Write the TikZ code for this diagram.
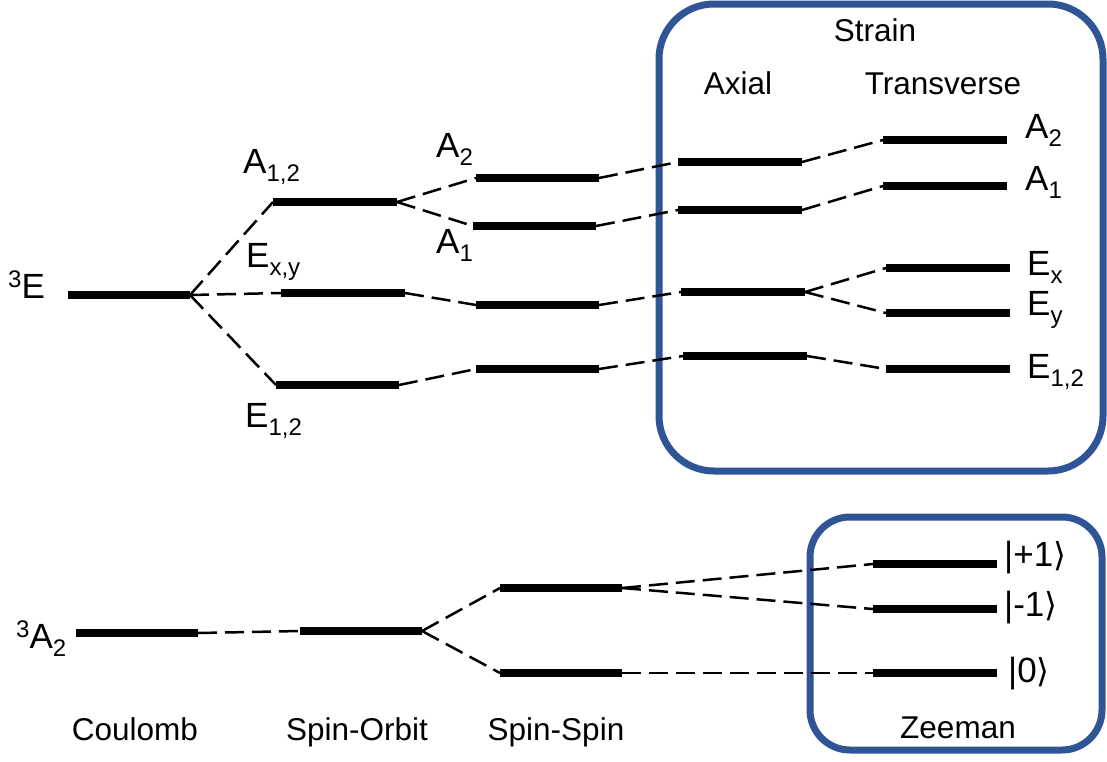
\documentclass[tikz,border=0pt]{standalone}
\usepackage{fontspec}
\setmainfont{Liberation Sans}
\newfontfamily\djv{DejaVu Sans}
\definecolor{boxblue}{RGB}{47,85,151}
\newcommand\lsub[1]{\raisebox{-0.23em}{\fontsize{24}{24}\selectfont #1}}
\newcommand\lsup[1]{\raisebox{0.3em}{\fontsize{24}{24}\selectfont #1}}
\newcommand\rket{{\djv\fontsize{33}{36}\selectfont ⟩}}
\begin{document}
\begin{tikzpicture}[x=1pt,y=-1pt,
  bar/.style={line width=8pt},
  conn/.style={line width=2.5pt, dash pattern=on 19pt off 8pt},
  frame/.style={draw=boxblue, line width=7pt},
  lbl/.style={font=\fontsize{35}{40}\selectfont, inner sep=0pt, anchor=base west},
  klbl/.style={font=\fontsize{35}{40}\selectfont, inner sep=0pt, anchor=base west},
  clbl/.style={font=\fontsize{31.5}{36}\selectfont, inner sep=0pt, anchor=base},
]
\useasboundingbox (0,0) rectangle (1107,761);
% frames
\draw[frame, rounded corners=55pt] (659,4) rectangle (1103,471);
\draw[frame, rounded corners=40pt] (810,517) rectangle (1102,750);
% levels
\foreach \n/\a/\b/\y in {E/68/190/295, A12/273/397/202, Exy/281/405/293, E12/276/399/385,
  SA2/476/599/178, SA1/473/596/226, SEx/476/599/305, SE12/476/599/369,
  XA2/678/802/162, XA1/678/802/210, XE/681/805/292, XE12/683/807/356,
  TA2/883/1007/140, TA1/883/1007/186, TEx/886/1010/268, TEy/886/1010/313, TE12/886/1010/369,
  GA/76/198/633, GSO/300/422/631, GSp/500/622/588, GS0/500/622/673,
  Zp/873/997/564, Zm/873/997/609, Z0/873/997/673}
  {\coordinate (\n-l) at (\a,\y); \coordinate (\n-r) at (\b,\y); \draw[bar] (\n-l) -- (\n-r);}
% connectors
\foreach \p/\q in {E/A12, E/Exy, E/E12, A12/SA2, A12/SA1, Exy/SEx, E12/SE12,
  SA2/XA2, SA1/XA1, SEx/XE, SE12/XE12, XA2/TA2, XA1/TA1, XE/TEx, XE/TEy, XE12/TE12,
  GA/GSO, GSO/GSp, GSO/GS0, GSp/Zp, GSp/Zm, GS0/Z0}
  {\draw[conn] (\p-r) -- (\q-l);}
% labels
\node[lbl] (t3E) at (8,298) {\lsup{3}E};
\node[lbl] (tA12) at (243,173) {A\lsub{1,2}};
\node[lbl] (tExy) at (246,267) {E\lsub{x,y}};
\node[lbl] (tE12) at (245,427) {E\lsub{1,2}};
\node[lbl] (tSA2) at (436,157) {A\lsub{2}};
\node[lbl] (tSA1) at (436,253) {A\lsub{1}};
\node[lbl] (tTA2) at (1025,138) {A\lsub{2}};
\node[lbl] (tTA1) at (1025,190) {A\lsub{1}};
\node[lbl] (tTEx) at (1027,275) {E\lsub{x}};
\node[lbl] (tTEy) at (1027,315) {E\lsub{y}};
\node[lbl] (tTE12) at (1027,378) {E\lsub{1,2}};
\node[lbl] (t3A2) at (16,648) {\lsup{3}A\lsub{2}};
\node[klbl] (tZp) at (1004,566) {|+1\rket};
\node[klbl] (tZm) at (1004,616) {|-1\rket};
\node[klbl] (tZ0) at (1008,682) {|0\rket};
\node[clbl] (tStrain) at (875,41) {Strain};
\node[clbl] (tAxial) at (738,94) {Axial};
\node[clbl] (tTrans) at (943,94) {Transverse};
\node[clbl] (tCoul) at (135,740) {Coulomb};
\node[clbl] (tSO) at (357,740) {Spin-Orbit};
\node[clbl] (tSS) at (556,740) {Spin-Spin};
\node[clbl] (tZee) at (958,738) {Zeeman};
\end{tikzpicture}
\end{document}
